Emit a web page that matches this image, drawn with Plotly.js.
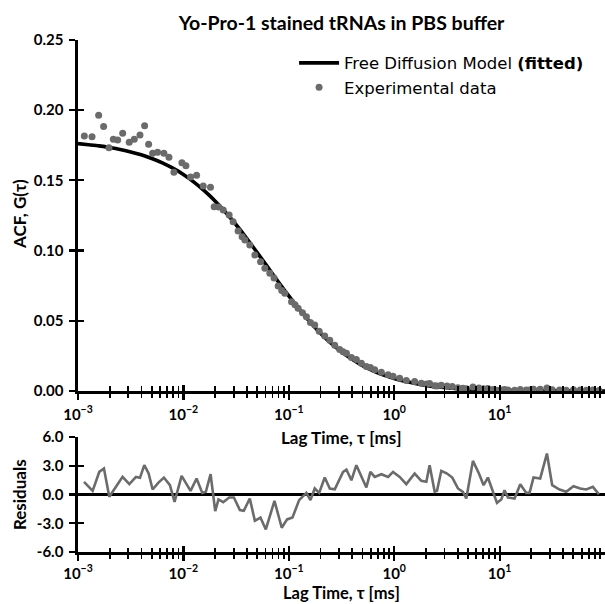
<!DOCTYPE html>
<html><head><meta charset="utf-8">
<script src="https://cdn.plot.ly/plotly-3.0.1.min.js"></script>
<style>html,body{margin:0;padding:0;background:#fff;} #chart{width:605px;height:604px;}</style>
</head><body><div id="chart"></div>
<script>
// Experimental ACF points (log10 of lag time in ms, G value)
const dataLogTau = [-2.940,-2.867,-2.804,-2.757,-2.706,-2.665,-2.624,-2.576,-2.514,-2.466,-2.412,-2.368,-2.330,-2.292,-2.245,-2.185,-2.137,-2.090,-2.014,-1.976,-1.932,-1.875,-1.812,-1.743,-1.708,-1.665,-1.622,-1.566,-1.528,-1.481,-1.443,-1.417,-1.370,-1.322,-1.268,-1.227,-1.180,-1.140,-1.101,-1.067,-1.038,-0.974,-0.941,-0.912,-0.870,-0.833,-0.795,-0.754,-0.712,-0.659,-0.611,-0.564,-0.517,-0.485,-0.453,-0.406,-0.359,-0.311,-0.264,-0.226,-0.185,-0.122,-0.058,-0.011,0.052,0.115,0.194,0.257,0.305,0.336,0.384,0.406,0.447,0.501,0.551,0.605,0.652,0.684,0.747,0.804,0.848,0.889,0.937,0.975,1.016,1.047,1.079,1.142,1.196,1.253,1.284,1.322,1.385,1.449,1.499,1.569,1.632,1.701,1.765,1.822,1.885,1.942];
const dataG = [0.1816,0.1811,0.1964,0.1883,0.1733,0.1793,0.1788,0.1835,0.1771,0.1793,0.1823,0.1890,0.1757,0.1693,0.1700,0.1693,0.1664,0.1558,0.1626,0.1605,0.1525,0.1536,0.1460,0.1451,0.1313,0.1310,0.1289,0.1254,0.1206,0.1140,0.1099,0.1075,0.1040,0.0969,0.0921,0.0874,0.0838,0.0805,0.0748,0.0715,0.0696,0.0636,0.0615,0.0589,0.0558,0.0529,0.0488,0.0470,0.0426,0.0392,0.0362,0.0325,0.0295,0.0279,0.0268,0.0239,0.0224,0.0197,0.0175,0.0167,0.0151,0.0133,0.0115,0.0105,0.0090,0.0075,0.0067,0.0055,0.0049,0.0053,0.0037,0.0035,0.0041,0.0035,0.0031,0.0023,0.0020,0.0016,0.0029,0.0022,0.0016,0.0018,0.0011,0.0006,0.0007,0.0010,0.0007,0.0006,0.0011,0.0007,0.0007,0.0013,0.0012,0.0022,0.0009,0.0007,0.0005,0.0008,0.0007,0.0006,0.0007,0.0004];

// Fitted free-diffusion curve
const fitLogTau = [-3.0,-2.9,-2.8,-2.7,-2.6,-2.5,-2.4,-2.3,-2.2,-2.1,-2.0,-1.9,-1.8,-1.7,-1.6,-1.5,-1.4,-1.3,-1.2,-1.1,-1.0,-0.9,-0.8,-0.7,-0.6,-0.5,-0.4,-0.3,-0.2,-0.1,0.0,0.1,0.2,0.3,0.4,0.5,0.6,0.7,0.8,0.9,1.0,1.2,1.4,1.6,1.8,2.0];
const fitG = [0.1762,0.1754,0.1746,0.1734,0.1720,0.1703,0.1682,0.1656,0.1625,0.1587,0.1542,0.1488,0.1425,0.1354,0.1273,0.1184,0.1088,0.0986,0.0882,0.0778,0.0677,0.0581,0.0492,0.0412,0.0341,0.0279,0.0226,0.0181,0.0144,0.0113,0.0089,0.0069,0.0053,0.0040,0.0030,0.0023,0.0017,0.0012,0.0009,0.0007,0.0005,0.00025,0.00013,0.00007,0.00003,0.00002];

// Residuals
const resLogTau = [-2.943,-2.861,-2.798,-2.754,-2.703,-2.649,-2.577,-2.513,-2.450,-2.412,-2.371,-2.330,-2.292,-2.239,-2.185,-2.128,-2.084,-2.017,-1.932,-1.875,-1.821,-1.787,-1.742,-1.698,-1.667,-1.622,-1.566,-1.521,-1.464,-1.427,-1.370,-1.322,-1.269,-1.218,-1.136,-1.067,-1.016,-0.965,-0.902,-0.833,-0.795,-0.754,-0.712,-0.659,-0.611,-0.564,-0.485,-0.453,-0.406,-0.359,-0.311,-0.264,-0.226,-0.185,-0.122,-0.058,-0.011,0.052,0.115,0.194,0.257,0.305,0.336,0.384,0.406,0.447,0.501,0.551,0.605,0.652,0.684,0.747,0.804,0.848,0.889,0.937,0.975,1.016,1.047,1.079,1.142,1.196,1.253,1.284,1.322,1.385,1.449,1.499,1.569,1.632,1.701,1.765,1.822,1.885,1.942];
const resVal = [1.32,0.38,2.36,2.71,-0.24,0.63,1.84,1.08,1.84,1.74,3.06,2.19,0.52,1.22,1.77,0.97,-0.76,1.94,0.38,1.67,0.17,0.28,2.12,-1.74,-0.52,-0.80,-0.31,-0.31,-1.63,-1.70,-0.42,-2.74,-2.40,-3.65,-0.66,-3.47,-2.60,-2.40,-0.59,0.17,-0.59,0.63,0.17,1.77,0.63,0.55,2.36,2.60,1.49,3.06,1.91,0.73,2.36,1.84,2.12,1.84,2.36,1.84,1.08,2.19,1.42,1.32,3.06,0.28,0.38,2.47,2.19,1.77,0.63,0.28,-0.42,3.51,2.19,0.97,1.77,0.28,-0.87,-0.52,0.45,-0.31,-0.42,1.08,0.17,0.17,1.77,1.67,4.27,0.97,0.52,0.28,0.87,0.63,0.52,0.80,0.03];

// Tick labels
const xTickVals = [0.001,0.01,0.1,1,10];
const xTickText = ['10<sup>−3</sup>','10<sup>−2</sup>','10<sup>−1</sup>','10<sup>0</sup>','10<sup>1</sup>'];
const yTickVals = [0,0.05,0.10,0.15,0.20,0.25];
const yTickText = ['0.00','0.05','0.10','0.15','0.20','0.25'];
const rTickVals = [-6,-3,0,3,6];
const rTickText = ['-6.0','-3.0','0.0','3.0','6.0'];

const toTau = a => a.map(v => Math.pow(10, v));
const minorVals = [];
[0.001,0.01,0.1,1,10].forEach(d => { for (let k = 2; k <= 9; k++) minorVals.push(d*k); });

const GRAY = '#6b6b6b';
const tickFont = {family:'Lato, "Open Sans", sans-serif', size:15, color:'#000', weight:'bold'};
const titleFont = {family:'Lato, "Open Sans", sans-serif', size:17, color:'#000', weight:'bold'};

const traces = [
  {x: toTau(fitLogTau), y: fitG, type:'scatter', mode:'lines', name:'Free Diffusion Model <b>(fitted)</b>',
   line:{color:'#000', width:3.6, shape:'spline', smoothing:0.6}, xaxis:'x', yaxis:'y', hoverinfo:'skip'},
  {x: toTau(dataLogTau), y: dataG, type:'scatter', mode:'markers', name:'Experimental data',
   marker:{color:GRAY, size:7}, xaxis:'x', yaxis:'y', hoverinfo:'skip'},
  {x: toTau(resLogTau), y: resVal, type:'scatter', mode:'lines', showlegend:false,
   line:{color:GRAY, width:2.6}, xaxis:'x2', yaxis:'y2', hoverinfo:'skip'},
  // helper traces so the inner-tick overlay axes get drawn
  {x:[1], y:[0.1], xaxis:'x3', yaxis:'y', mode:'markers', marker:{opacity:0}, showlegend:false, hoverinfo:'skip'},
  {x:[1], y:[0.1], xaxis:'x', yaxis:'y3', mode:'markers', marker:{opacity:0}, showlegend:false, hoverinfo:'skip'},
  {x:[1], y:[0], xaxis:'x4', yaxis:'y2', mode:'markers', marker:{opacity:0}, showlegend:false, hoverinfo:'skip'},
  {x:[1], y:[0], xaxis:'x2', yaxis:'y4', mode:'markers', marker:{opacity:0}, showlegend:false, hoverinfo:'skip'}
];

const logX = (extra) => Object.assign({
  type:'log', range:[-3, 2], tickmode:'array', tickvals:xTickVals, ticktext:xTickText,
  ticks:'outside', ticklen:6, tickwidth:2.2, tickcolor:'#000',
  showline:true, linecolor:'#000', linewidth:2.6, showgrid:false, zeroline:false,
  tickfont:tickFont, ticklabelstandoff:2,
  minor:{tickmode:'array', tickvals:minorVals, ticks:'outside', ticklen:4.5, tickwidth:1.8, tickcolor:'#000', showgrid:false}
}, extra);
const innerX = (extra) => Object.assign({
  type:'log', range:[-3, 2], tickmode:'array', tickvals:xTickVals,
  ticks:'inside', ticklen:6, tickwidth:2.2, tickcolor:'#000', showticklabels:false,
  showline:false, showgrid:false, zeroline:false,
  minor:{tickmode:'array', tickvals:minorVals, ticks:'inside', ticklen:4.5, tickwidth:1.8, tickcolor:'#000', showgrid:false}
}, extra);

const layout = {
  width:605, height:604,
  margin:{l:78, r:0, t:40, b:52},
  paper_bgcolor:'#fff', plot_bgcolor:'#fff',
  showlegend:true,
  title:{text:'Yo-Pro-1 stained tRNAs in PBS buffer', font:{family:'Lato, "Open Sans", sans-serif', size:19.5, color:'#000', weight:'bold'},
         x:0.5645, xref:'container', xanchor:'center', y:0.962, yref:'container', yanchor:'middle'},
  legend:{x:0.41, y:0.989, xanchor:'left', yanchor:'top', bgcolor:'rgba(0,0,0,0)', borderwidth:0,
          font:{family:'DejaVu Sans', size:16.5, color:'#000'}, itemwidth:40, traceorder:'normal'},
  xaxis: logX({anchor:'y', domain:[0,1]}),
  yaxis: {anchor:'x', domain:[0.3145,1], range:[0,0.25], tickmode:'array', tickvals:yTickVals, ticktext:yTickText,
          ticks:'outside', ticklen:6, tickwidth:2.2, tickcolor:'#000', showline:true, linecolor:'#000', linewidth:2.6,
          showgrid:false, zeroline:false, tickfont:tickFont, ticklabelstandoff:3},
  xaxis2: logX({anchor:'y2', domain:[0,1], ticklabelstandoff:0}),
  yaxis2: {anchor:'x2', domain:[0,0.2246], range:[-6,6], tickmode:'array', tickvals:rTickVals, ticktext:rTickText,
          ticks:'outside', ticklen:6, tickwidth:2.2, tickcolor:'#000', showline:true, linecolor:'#000', linewidth:2.6,
          showgrid:false, zeroline:true, zerolinecolor:'#000', zerolinewidth:2.2, tickfont:tickFont, ticklabelstandoff:3},
  xaxis3: innerX({overlaying:'x', anchor:'y'}),
  yaxis3: {overlaying:'y', anchor:'x', range:[0,0.25], tickmode:'array', tickvals:yTickVals, ticks:'inside', ticklen:6, tickwidth:2.2,
           tickcolor:'#000', showticklabels:false, showline:false, showgrid:false, zeroline:false},
  xaxis4: innerX({overlaying:'x2', anchor:'y2'}),
  yaxis4: {overlaying:'y2', anchor:'x2', range:[-6,6], tickmode:'array', tickvals:rTickVals, ticks:'inside', ticklen:6, tickwidth:2.2,
           tickcolor:'#000', showticklabels:false, showline:false, showgrid:false, zeroline:false},
  annotations:[
    {text:'Lag Time, τ [ms]', xref:'paper', yref:'paper', x:0.5, y:0.2246, xanchor:'center', yanchor:'middle', showarrow:false, font:titleFont},
    {text:'Lag Time, τ [ms]', xref:'paper', yref:'paper', x:0.5, y:-0.080, xanchor:'center', yanchor:'middle', showarrow:false, font:{family:'Lato, "Open Sans", sans-serif', size:16.5, color:'#000', weight:'bold'}},
    {text:'ACF, G(τ)', xref:'paper', yref:'paper', x:-0.112, y:0.660, xanchor:'center', yanchor:'middle', textangle:-90, showarrow:false, font:titleFont},
    {text:'Residuals', xref:'paper', yref:'paper', x:-0.112, y:0.113, xanchor:'center', yanchor:'middle', textangle:-90, showarrow:false, font:titleFont}
  ]
};

Plotly.newPlot('chart', traces, layout, {staticPlot:true, displayModeBar:false});
</script>
</body></html>
